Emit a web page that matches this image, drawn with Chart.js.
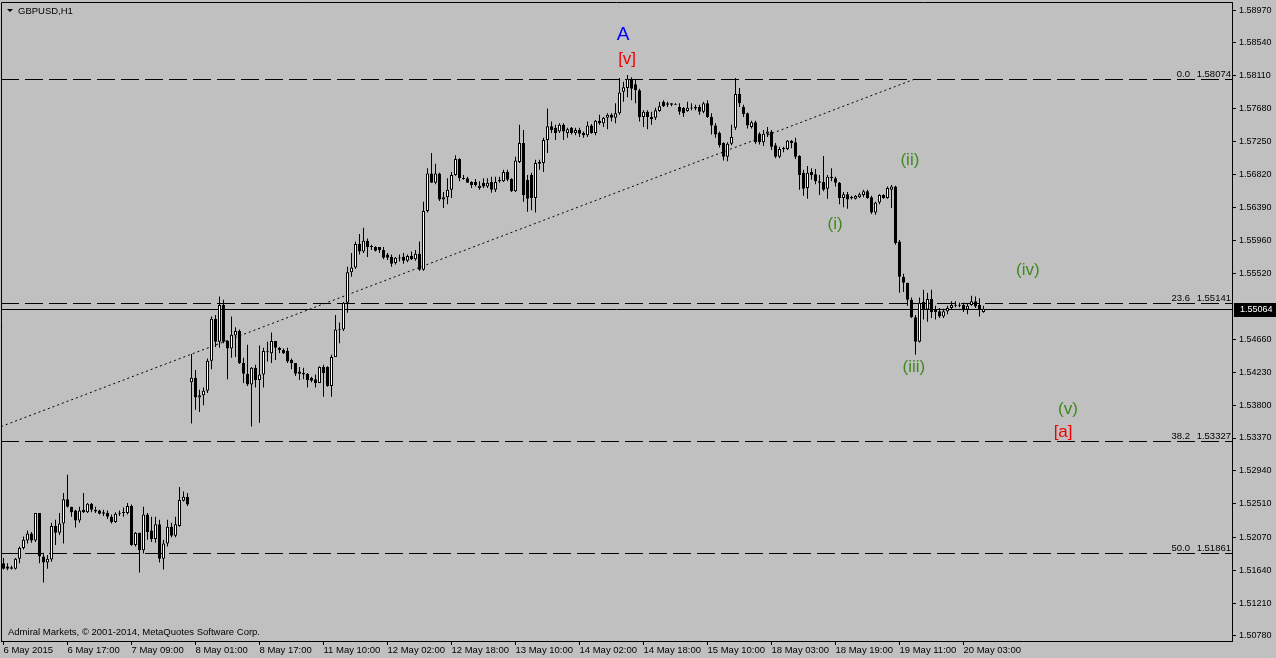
<!DOCTYPE html>
<html>
<head>
<meta charset="utf-8">
<title>GBPUSD,H1</title>
<script src="https://cdn.jsdelivr.net/npm/chart.js@4.4.1/dist/chart.umd.min.js"></script>
<style>
  html, body { margin: 0; padding: 0; background: #c0c0c0; overflow: hidden; }
  canvas { display: block; }
</style>
</head>
<body>
<canvas id="chart" width="1276" height="658"></canvas>
<script>
// GBPUSD H1 bars (one value per hourly bar)
const opens = [
  1.5173,1.5169,1.5168,1.5166,1.5179,1.5193,1.5203,1.5212,1.5203,1.5239,1.5182,1.5174,
  1.5178,1.5222,1.5213,1.5225,1.5257,1.5247,1.5242,1.5229,1.5243,1.5240,1.5251,1.5243,
  1.5242,1.5240,1.5239,1.5234,1.5227,1.5239,1.5240,1.5239,1.5248,1.5197,1.5213,1.5190,
  1.5237,1.5216,1.5205,1.5224,1.5179,1.5199,1.5221,1.5209,1.5222,1.5255,1.5260,1.5410,
  1.5416,1.5390,1.5393,1.5399,1.5438,1.5493,1.5463,1.5511,1.5464,1.5454,1.5471,1.5477,
  1.5435,1.5421,1.5407,1.5429,1.5413,1.5420,1.5451,1.5448,1.5464,1.5455,1.5452,1.5451,
  1.5439,1.5435,1.5424,1.5422,1.5421,1.5416,1.5414,1.5409,1.5430,1.5430,1.5405,1.5443,
  1.5479,1.5479,1.5514,1.5554,1.5560,1.5591,1.5581,1.5595,1.5588,1.5587,1.5587,1.5583,
  1.5577,1.5574,1.5566,1.5573,1.5574,1.5569,1.5575,1.5571,1.5578,1.5557,1.5634,1.5683,
  1.5671,1.5683,1.5649,1.5652,1.5662,1.5681,1.5702,1.5677,1.5677,1.5672,1.5672,1.5664,
  1.5671,1.5666,1.5672,1.5662,1.5673,1.5673,1.5685,1.5676,1.5660,1.5698,1.5723,1.5675,
  1.5681,1.5651,1.5696,1.5697,1.5727,1.5745,1.5743,1.5738,1.5747,1.5736,1.5743,1.5736,
  1.5740,1.5736,1.5733,1.5746,1.5736,1.5752,1.5749,1.5756,1.5760,1.5756,1.5762,1.5790,
  1.5795,1.5807,1.5800,1.5792,1.5757,1.5764,1.5757,1.5756,1.5765,1.5777,1.5775,1.5775,
  1.5774,1.5770,1.5769,1.5765,1.5769,1.5770,1.5770,1.5764,1.5775,1.5757,1.5746,1.5736,
  1.5723,1.5705,1.5722,1.5743,1.5787,1.5770,1.5762,1.5744,1.5750,1.5735,1.5724,1.5735,
  1.5738,1.5720,1.5705,1.5715,1.5715,1.5726,1.5724,1.5706,1.5684,1.5664,1.5685,1.5682,
  1.5673,1.5672,1.5663,1.5677,1.5677,1.5671,1.5651,1.5656,1.5652,1.5650,1.5652,1.5655,
  1.5660,1.5652,1.5632,1.5645,1.5655,1.5651,1.5662,1.5666,1.5594,1.5548,1.5540,1.5518,
  1.5495,1.5463,1.5515,1.5505,1.5519,1.5505,1.5503,1.5496,1.5503,1.5507,1.5511,1.5510,
  1.5511,1.5505,1.5511,1.5516,1.5511,1.5502
];
const highs = [
  1.5180,1.5173,1.5170,1.5180,1.5195,1.5208,1.5216,1.5214,1.5239,1.5239,1.5187,1.5184,
  1.5226,1.5230,1.5239,1.5265,1.5289,1.5247,1.5243,1.5247,1.5265,1.5252,1.5252,1.5247,
  1.5243,1.5243,1.5242,1.5237,1.5240,1.5242,1.5246,1.5252,1.5250,1.5214,1.5213,1.5247,
  1.5239,1.5234,1.5234,1.5230,1.5204,1.5230,1.5226,1.5234,1.5273,1.5267,1.5265,1.5447,
  1.5426,1.5400,1.5403,1.5441,1.5496,1.5498,1.5522,1.5518,1.5465,1.5496,1.5482,1.5479,
  1.5442,1.5459,1.5430,1.5433,1.5458,1.5455,1.5463,1.5475,1.5464,1.5456,1.5454,1.5455,
  1.5441,1.5435,1.5430,1.5429,1.5422,1.5417,1.5420,1.5431,1.5433,1.5431,1.5446,1.5498,
  1.5488,1.5515,1.5561,1.5579,1.5594,1.5604,1.5612,1.5598,1.5590,1.5588,1.5587,1.5587,
  1.5579,1.5577,1.5574,1.5577,1.5579,1.5577,1.5581,1.5583,1.5594,1.5646,1.5690,1.5710,
  1.5696,1.5684,1.5659,1.5677,1.5685,1.5707,1.5703,1.5681,1.5679,1.5673,1.5676,1.5673,
  1.5677,1.5677,1.5679,1.5679,1.5679,1.5688,1.5688,1.5677,1.5705,1.5747,1.5740,1.5681,
  1.5684,1.5701,1.5701,1.5730,1.5768,1.5751,1.5747,1.5749,1.5749,1.5743,1.5744,1.5743,
  1.5743,1.5738,1.5751,1.5748,1.5753,1.5760,1.5757,1.5762,1.5762,1.5775,1.5808,1.5803,
  1.5812,1.5809,1.5806,1.5794,1.5766,1.5766,1.5764,1.5769,1.5777,1.5779,1.5777,1.5775,
  1.5775,1.5775,1.5770,1.5777,1.5775,1.5773,1.5773,1.5777,1.5779,1.5762,1.5749,1.5738,
  1.5724,1.5724,1.5747,1.5808,1.5795,1.5773,1.5763,1.5752,1.5752,1.5737,1.5740,1.5744,
  1.5740,1.5723,1.5718,1.5718,1.5727,1.5727,1.5730,1.5707,1.5688,1.5693,1.5690,1.5689,
  1.5681,1.5706,1.5681,1.5690,1.5679,1.5672,1.5659,1.5659,1.5654,1.5655,1.5658,1.5662,
  1.5662,1.5654,1.5646,1.5656,1.5656,1.5666,1.5668,1.5667,1.5596,1.5552,1.5540,1.5521,
  1.5498,1.5521,1.5531,1.5527,1.5531,1.5510,1.5507,1.5506,1.5510,1.5516,1.5516,1.5514,
  1.5514,1.5513,1.5523,1.5522,1.5520,1.5510
];
const lows = [
  1.5165,1.5164,1.5165,1.5165,1.5173,1.5191,1.5199,1.5200,1.5201,1.5173,1.5148,1.5166,
  1.5175,1.5197,1.5210,1.5199,1.5246,1.5234,1.5220,1.5226,1.5239,1.5239,1.5240,1.5239,
  1.5237,1.5235,1.5231,1.5225,1.5226,1.5235,1.5234,1.5237,1.5196,1.5195,1.5161,1.5186,
  1.5204,1.5201,1.5200,1.5174,1.5165,1.5195,1.5207,1.5207,1.5221,1.5254,1.5248,1.5356,
  1.5374,1.5371,1.5380,1.5396,1.5427,1.5456,1.5455,1.5461,1.5414,1.5442,1.5443,1.5434,
  1.5409,1.5405,1.5352,1.5403,1.5357,1.5403,1.5437,1.5435,1.5439,1.5448,1.5447,1.5435,
  1.5427,1.5418,1.5413,1.5414,1.5403,1.5410,1.5403,1.5409,1.5391,1.5404,1.5391,1.5443,
  1.5461,1.5477,1.5501,1.5548,1.5558,1.5577,1.5579,1.5574,1.5583,1.5581,1.5579,1.5571,
  1.5570,1.5561,1.5564,1.5568,1.5565,1.5567,1.5570,1.5569,1.5556,1.5556,1.5632,1.5671,
  1.5669,1.5647,1.5638,1.5643,1.5651,1.5680,1.5673,1.5675,1.5671,1.5664,1.5666,1.5662,
  1.5664,1.5664,1.5658,1.5659,1.5671,1.5672,1.5673,1.5659,1.5659,1.5697,1.5646,1.5633,
  1.5635,1.5632,1.5688,1.5685,1.5710,1.5736,1.5727,1.5736,1.5727,1.5730,1.5734,1.5733,
  1.5731,1.5730,1.5731,1.5735,1.5733,1.5747,1.5744,1.5741,1.5751,1.5749,1.5760,1.5777,
  1.5783,1.5779,1.5775,1.5751,1.5744,1.5741,1.5747,1.5753,1.5764,1.5770,1.5770,1.5771,
  1.5773,1.5760,1.5757,1.5764,1.5766,1.5766,1.5760,1.5762,1.5756,1.5734,1.5730,1.5717,
  1.5700,1.5699,1.5720,1.5740,1.5770,1.5757,1.5742,1.5742,1.5722,1.5721,1.5719,1.5731,
  1.5714,1.5703,1.5703,1.5711,1.5714,1.5716,1.5702,1.5662,1.5654,1.5650,1.5675,1.5669,
  1.5655,1.5660,1.5650,1.5673,1.5666,1.5643,1.5639,1.5637,1.5649,1.5649,1.5651,1.5652,
  1.5650,1.5630,1.5629,1.5643,1.5650,1.5650,1.5638,1.5590,1.5527,1.5528,1.5510,1.5494,
  1.5446,1.5462,1.5492,1.5489,1.5494,1.5492,1.5494,1.5494,1.5499,1.5505,1.5508,1.5508,
  1.5502,1.5499,1.5510,1.5507,1.5496,1.5501
];
const closes = [
  1.5166,1.5166,1.5166,1.5179,1.5193,1.5204,1.5212,1.5203,1.5239,1.5182,1.5174,1.5179,
  1.5222,1.5213,1.5225,1.5257,1.5247,1.5240,1.5229,1.5242,1.5240,1.5251,1.5243,1.5241,
  1.5238,1.5238,1.5234,1.5227,1.5238,1.5238,1.5239,1.5248,1.5197,1.5213,1.5190,1.5237,
  1.5214,1.5205,1.5224,1.5179,1.5199,1.5221,1.5209,1.5224,1.5256,1.5260,1.5250,1.5416,
  1.5390,1.5393,1.5399,1.5438,1.5493,1.5463,1.5511,1.5463,1.5454,1.5472,1.5477,1.5435,
  1.5421,1.5407,1.5429,1.5413,1.5420,1.5451,1.5450,1.5464,1.5455,1.5452,1.5448,1.5437,
  1.5435,1.5421,1.5421,1.5420,1.5413,1.5412,1.5409,1.5430,1.5422,1.5405,1.5443,1.5479,
  1.5478,1.5514,1.5554,1.5560,1.5591,1.5581,1.5595,1.5587,1.5587,1.5582,1.5583,1.5573,
  1.5573,1.5565,1.5573,1.5572,1.5569,1.5575,1.5571,1.5578,1.5557,1.5634,1.5683,1.5671,
  1.5683,1.5649,1.5652,1.5662,1.5681,1.5702,1.5677,1.5676,1.5671,1.5668,1.5668,1.5667,
  1.5666,1.5671,1.5662,1.5672,1.5675,1.5685,1.5675,1.5660,1.5700,1.5723,1.5655,1.5650,
  1.5651,1.5697,1.5698,1.5727,1.5745,1.5740,1.5736,1.5747,1.5738,1.5741,1.5736,1.5740,
  1.5735,1.5733,1.5746,1.5736,1.5752,1.5749,1.5756,1.5760,1.5756,1.5762,1.5789,1.5796,
  1.5807,1.5794,1.5792,1.5757,1.5764,1.5757,1.5754,1.5766,1.5771,1.5771,1.5773,1.5773,
  1.5773,1.5764,1.5762,1.5769,1.5768,1.5768,1.5764,1.5775,1.5757,1.5746,1.5734,1.5720,
  1.5705,1.5722,1.5731,1.5787,1.5775,1.5761,1.5746,1.5750,1.5724,1.5724,1.5735,1.5738,
  1.5718,1.5705,1.5715,1.5716,1.5726,1.5723,1.5705,1.5681,1.5663,1.5684,1.5681,1.5673,
  1.5671,1.5662,1.5679,1.5679,1.5671,1.5651,1.5656,1.5649,1.5651,1.5654,1.5656,1.5660,
  1.5651,1.5632,1.5645,1.5655,1.5651,1.5664,1.5666,1.5592,1.5548,1.5540,1.5518,1.5495,
  1.5463,1.5514,1.5505,1.5519,1.5502,1.5502,1.5496,1.5503,1.5507,1.5511,1.5510,1.5510,
  1.5505,1.5510,1.5516,1.5509,1.5505,1.5506
];

// one time label every 16 bars
const timeLabels = [
  '6 May 2015', '6 May 17:00', '7 May 09:00', '8 May 01:00', '8 May 17:00', '11 May 10:00',
  '12 May 02:00', '12 May 18:00', '13 May 10:00', '14 May 02:00', '14 May 18:00',
  '15 May 10:00', '18 May 03:00', '18 May 19:00', '19 May 11:00', '20 May 03:00'
];
const priceTicks = [
  1.58970, 1.58540, 1.58110, 1.57680, 1.57250, 1.56820, 1.56390, 1.55960, 1.55520,
  1.54660, 1.54230, 1.53800, 1.53370, 1.52940, 1.52510, 1.52070, 1.51640, 1.51210, 1.50780
];
const fiboNames = ['0.0', '23.6', '38.2', '50.0'];
const fiboPrices = [1.58074, 1.55141, 1.53327, 1.51861];
const currentPrice = 1.55064;
const trendBars = [-0.6, 228];
const trendPrices = [1.5352, 1.5807];

const waveLabels = [
  { text: 'A', bar: 154.9, price: 1.5864, color: '#0000ff', size: 19 },
  { text: '[v]', bar: 155.9, price: 1.5833, color: '#f00000', size: 17 },
  { text: '(ii)', bar: 226.6, price: 1.5701, color: '#3d8b1d', size: 17 },
  { text: '(i)', bar: 207.9, price: 1.5616, color: '#3d8b1d', size: 17 },
  { text: '(iv)', bar: 256.1, price: 1.5556, color: '#3d8b1d', size: 17 },
  { text: '(iii)', bar: 227.6, price: 1.5429, color: '#3d8b1d', size: 17 },
  { text: '(v)', bar: 266.1, price: 1.5375, color: '#3d8b1d', size: 17 },
  { text: '[a]', bar: 264.9, price: 1.5345, color: '#f00000', size: 17 }
];

const FONT = 'Liberation Sans';

const bodies = opens.map((o, i) => ({ x: i, y: [o, closes[i]] }));
const wicks = lows.map((l, i) => ({ x: i, y: [l, highs[i]] }));
const bodyColors = opens.map((o, i) => closes[i] >= o ? '#ffffff' : '#000000');

const mt4Overlay = {
  id: 'mt4Overlay',
  beforeDatasetsDraw(chart) {
    const ctx = chart.ctx;
    const area = chart.chartArea;
    const y = chart.scales.y;
    ctx.save();
    ctx.strokeStyle = '#000';
    ctx.lineWidth = 1;
    // fibo levels
    ctx.setLineDash([18, 6]);
    fiboPrices.forEach(p => {
      const py = Math.round(y.getPixelForValue(p)) + 0.5;
      ctx.beginPath();
      ctx.moveTo(area.left, py);
      ctx.lineTo(area.right, py);
      ctx.stroke();
    });
    // bid line
    ctx.setLineDash([]);
    const by = Math.round(y.getPixelForValue(currentPrice)) + 0.5;
    ctx.beginPath();
    ctx.moveTo(area.left, by);
    ctx.lineTo(area.right, by);
    ctx.stroke();
    ctx.restore();
  },
  afterDraw(chart) {
    const ctx = chart.ctx;
    const area = chart.chartArea;
    const x = chart.scales.x;
    const y = chart.scales.y;
    ctx.save();
    // frame
    ctx.strokeStyle = '#000';
    ctx.lineWidth = 1;
    ctx.beginPath();
    ctx.moveTo(area.left + 0.5, area.bottom);
    ctx.lineTo(area.left + 0.5, area.top + 0.5);
    ctx.lineTo(area.right, area.top + 0.5);
    ctx.stroke();

    // fibo texts
    ctx.fillStyle = '#000';
    ctx.font = '9.5px "' + FONT + '"';
    ctx.textBaseline = 'alphabetic';
    ctx.textAlign = 'right';
    fiboPrices.forEach((p, k) => {
      const py = Math.round(y.getPixelForValue(p));
      ctx.fillText(fiboNames[k], 1190, py - 2);
      ctx.fillText(p.toFixed(5), 1231, py - 2);
    });

    // wave labels
    ctx.textAlign = 'center';
    ctx.textBaseline = 'middle';
    waveLabels.forEach(w => {
      ctx.fillStyle = w.color;
      ctx.font = w.size + 'px "' + FONT + '"';
      ctx.fillText(w.text, x.getPixelForValue(w.bar), y.getPixelForValue(w.price));
    });

    // bid price box on the axis
    const by = Math.round(y.getPixelForValue(currentPrice));
    ctx.fillStyle = '#000';
    ctx.fillRect(area.right + 2, by - 6, chart.width - area.right - 2, 14);
    ctx.fillStyle = '#fff';
    ctx.font = '9px "' + FONT + '"';
    ctx.textAlign = 'left';
    ctx.textBaseline = 'middle';
    ctx.fillText(currentPrice.toFixed(5), area.right + 8, by + 1);

    // header
    ctx.fillStyle = '#000';
    ctx.beginPath();
    ctx.moveTo(7, 9);
    ctx.lineTo(13, 9);
    ctx.lineTo(10, 12);
    ctx.closePath();
    ctx.fill();
    ctx.font = '9.5px "' + FONT + '"';
    ctx.fillText('GBPUSD,H1', 18, 11);

    // copyright
    ctx.fillText('Admiral Markets, \u00a9 2001-2014, MetaQuotes Software Corp.', 8, 632);
    ctx.restore();
  }
};

new Chart(document.getElementById('chart'), {
  type: 'bar',
  data: {
    datasets: [
      {
        label: 'body',
        data: bodies,
        backgroundColor: bodyColors,
        borderColor: '#000',
        borderWidth: 1,
        borderSkipped: false,
        inflateAmount: 0,
        barThickness: 3,
        minBarLength: 1,
        grouped: false,
        order: 1
      },
      {
        label: 'wick',
        data: wicks,
        backgroundColor: '#000',
        borderWidth: 0,
        inflateAmount: 0,
        barThickness: 1,
        grouped: false,
        order: 2
      },
      {
        type: 'line',
        label: 'trend',
        data: trendBars.map((b, i) => ({ x: b, y: trendPrices[i] })),
        borderColor: '#000',
        borderWidth: 1,
        borderDash: [2, 3],
        pointRadius: 0,
        fill: false,
        order: 3
      }
    ]
  },
  options: {
    responsive: false,
    devicePixelRatio: 1,
    animation: false,
    events: [],
    layout: { padding: { left: 1, top: 2, right: 0, bottom: 0 } },
    plugins: { legend: { display: false }, tooltip: { enabled: false } },
    scales: {
      x: {
        type: 'linear',
        min: -0.625,
        max: 307.125,
        offset: false,
        afterBuildTicks: s => { s.ticks = timeLabels.map((t, k) => ({ value: k * 16 })); },
        afterFit: s => { s.height = 17; s.paddingLeft = 0; s.paddingRight = 0; },
        grid: { drawOnChartArea: false, drawTicks: true, tickLength: 4, color: '#000', offset: false },
        border: { display: true, color: '#000' },
        ticks: {
          autoSkip: false, maxRotation: 0, minRotation: 0, align: 'start', padding: 0,
          color: '#000', font: { family: FONT, size: 9.5 },
          callback: v => timeLabels[Math.round(v / 16)]
        }
      },
      y: {
        type: 'linear',
        position: 'right',
        min: 1.50714,
        max: 1.59075,
        bounds: 'data',
        afterBuildTicks: s => { s.ticks = priceTicks.map(v => ({ value: v })); },
        afterFit: s => { s.width = 44; s.paddingTop = 0; s.paddingBottom = 0; },
        grid: { drawOnChartArea: false, drawTicks: true, tickLength: 4, color: '#000' },
        border: { display: true, color: '#000' },
        ticks: {
          autoSkip: false, padding: 3, color: '#000', font: { family: FONT, size: 9 },
          callback: v => v.toFixed(5)
        }
      }
    }
  },
  plugins: [mt4Overlay]
});
</script>
</body>
</html>
